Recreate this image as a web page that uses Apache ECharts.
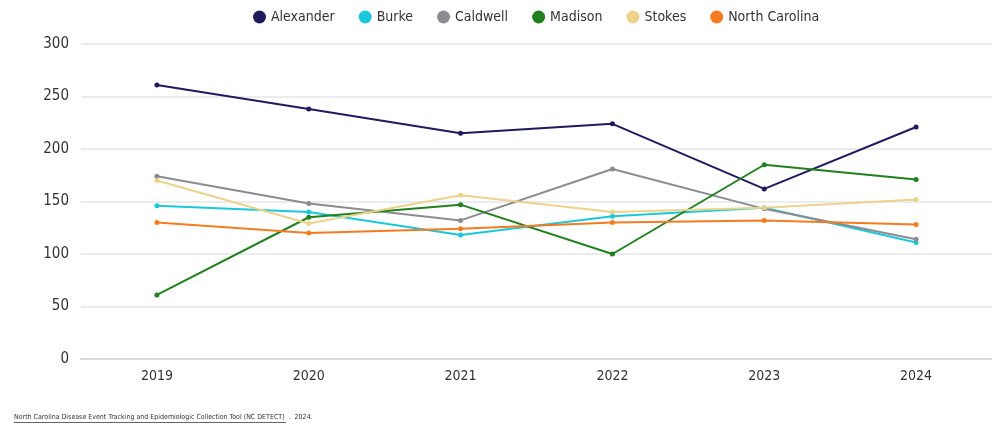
<!DOCTYPE html>
<html>
<head>
<meta charset="utf-8">
<script src="https://cdn.jsdelivr.net/npm/echarts@6/dist/echarts.min.js"></script>
<style>
  html, body { margin: 0; padding: 0; background: #fff; }
  #chart { width: 992px; height: 425px; }
</style>
</head>
<body>
<div id="chart"></div>
<script>
var years = ['2019', '2020', '2021', '2022', '2023', '2024']
var alexander = [261, 238, 215, 224, 162, 221]
var burke = [146, 140, 118, 136, 144, 111]
var caldwell = [174, 148, 132, 181, 143, 114]
var madison = [61, 135, 147, 100, 185, 171]
var stokes = [170, 129, 156, 140, 144, 152]
var northCarolina = [130, 120, 124, 130, 132, 128]
var yTicks = [0, 50, 100, 150, 200, 250, 300]

var font = '"DejaVu Sans Condensed", "Liberation Sans Narrow", sans-serif'

function line (name, data, color) {
  return {
    name: name,
    type: 'line',
    data: data,
    symbol: 'circle',
    symbolSize: 5,
    color: color,
    lineStyle: { width: 2 }
  }
}

var chart = echarts.init(document.getElementById('chart'))
chart.setOption({
  animation: false,
  textStyle: { fontFamily: font },
  legend: {
    top: 5,
    left: 248,
    icon: 'circle',
    itemWidth: 13,
    itemHeight: 13,
    itemGap: 24,
    textStyle: { fontSize: 14, color: '#333', fontFamily: font }
  },
  grid: { left: 81, right: -1, top: 44, bottom: 66 },
  xAxis: {
    type: 'category',
    data: years,
    boundaryGap: true,
    axisLine: { lineStyle: { color: '#d9d9d9', width: 2 } },
    axisTick: { show: false },
    axisLabel: { fontSize: 14, color: '#333', margin: 10, fontFamily: font }
  },
  yAxis: {
    type: 'value',
    min: yTicks[0],
    max: yTicks[yTicks.length - 1],
    interval: 50,
    axisLine: { show: false },
    axisTick: { show: false },
    splitLine: { lineStyle: { color: '#e6e6e6', width: 1.5 } },
    axisLabel: { fontSize: 15, color: '#333', margin: 12, fontFamily: font }
  },
  graphic: [
    {
      type: 'text',
      left: 14,
      top: 414,
      style: {
        text: 'North Carolina Disease Event Tracking and Epidemiologic Collection Tool (NC DETECT)  .  2024.',
        fontSize: 7,
        fill: '#333',
        fontFamily: font
      }
    },
    {
      type: 'rect',
      left: 14,
      top: 422,
      shape: { width: 272, height: 0.8 },
      style: { fill: '#333' }
    }
  ],
  series: [
    line('Alexander', alexander, '#1e1b5e'),
    line('Burke', burke, '#1ac8da'),
    line('Caldwell', caldwell, '#8a8c8f'),
    line('Madison', madison, '#22801f'),
    line('Stokes', stokes, '#ebd38c'),
    line('North Carolina', northCarolina, '#f47b20')
  ]
})
</script>
</body>
</html>
